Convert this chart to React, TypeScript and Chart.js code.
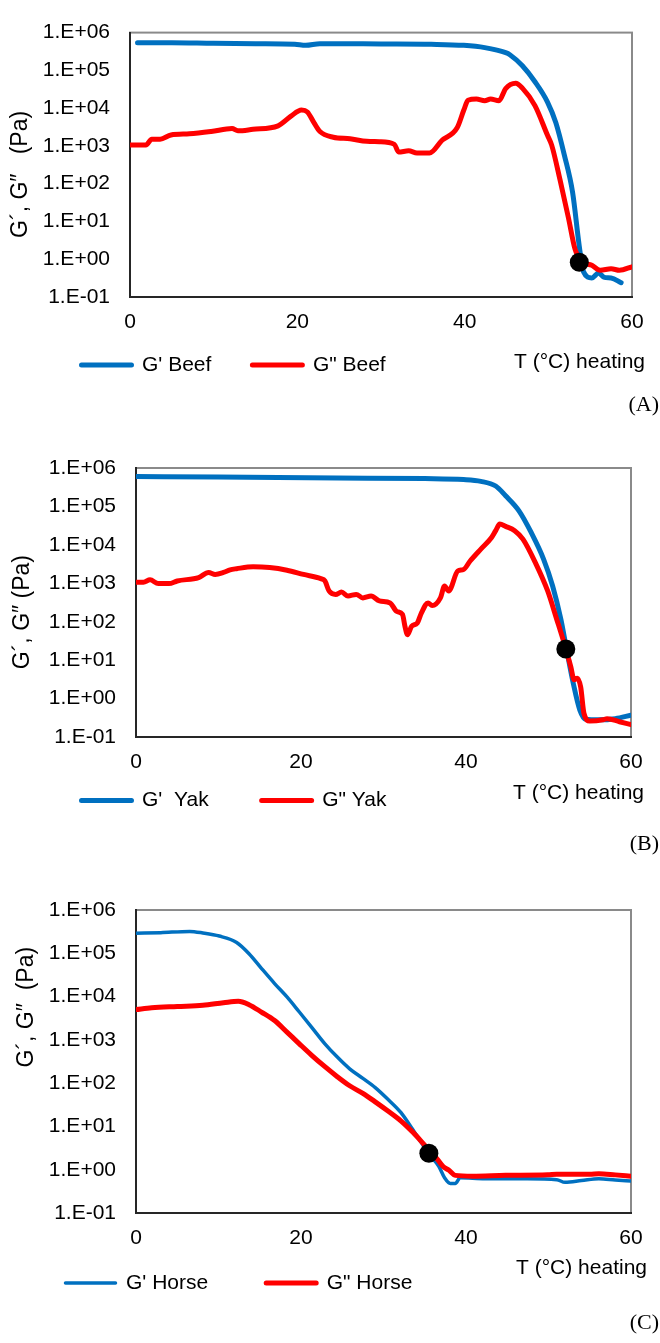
import React, { useEffect, useRef } from 'react';
import { Chart, registerables } from 'chart.js';

Chart.register(...registerables);
Chart.defaults.font.family = "'Liberation Sans', Arial, sans-serif";

// ---- axis ticks ----
const X_TICKS = [0, 20, 40, 60];
const Y_TICKS = [0.1, 1, 10, 100, 1000, 10000, 100000, 1000000];
const Y_TICK_LABELS = ['1.E-01', '1.E+00', '1.E+01', '1.E+02', '1.E+03', '1.E+04', '1.E+05', '1.E+06'];

// ---- (A) Beef ----
const BEEF_G1_T = [0.9, 5, 10, 15, 19.7, 21, 22.7, 30, 36, 39.9, 42.4, 44.9, 45.4, 46.9, 48.4, 49.9, 50.9, 51.9, 52.9, 53.7, 54.2, 55.2, 56.0, 56.7, 57.5, 58.7];
const BEEF_G1 = [540000, 540000, 520000, 510000, 490000, 460000, 510000, 500000, 490000, 460000, 400000, 295000, 260000, 132000, 50000, 14500, 4100, 590, 59, 2.2, 0.47, 0.32, 0.43, 0.33, 0.32, 0.24];
const BEEF_G2_T = [0, 1.9, 2.6, 3.6, 4.9, 7.1, 9.7, 12.2, 12.9, 14.7, 17.7, 19.2, 20.5, 21.2, 22.0, 22.7, 24.3, 26.3, 28.3, 29.8, 31.6, 32.1, 33.3, 34.3, 35.8, 37.3, 39.1, 39.9, 40.4, 41.4, 42.4, 43.1, 44.1, 44.9, 46.1, 46.9, 48.4, 49.9, 50.4, 51.4, 52.4, 53.2, 53.9, 55.2, 56.2, 57.5, 58.5, 60];
const BEEF_G2 = [1050, 1050, 1510, 1510, 1950, 2090, 2400, 2880, 2510, 2750, 3390, 6030, 8910, 7940, 4070, 2400, 1700, 1550, 1320, 1290, 1100, 690, 740, 650, 650, 1410, 3020, 8910, 16200, 17400, 15800, 17400, 15800, 33100, 45700, 33900, 11700, 1910, 1050, 126, 12.6, 1.82, 0.91, 0.69, 0.51, 0.56, 0.51, 0.63];
const BEEF_CROSS = { x: 53.7, y: 0.83 };

// ---- (B) Yak ----
const YAK_G1_T = [0, 10, 24.4, 35, 39.7, 41.8, 43.6, 44.8, 46.4, 47.9, 49.4, 50.5, 51.5, 52.2, 53.0, 53.8, 54.5, 56.1, 58.1, 60];
const YAK_G1 = [600000, 580000, 550000, 530000, 500000, 450000, 340000, 190000, 78000, 21000, 4270, 850, 115, 18.6, 2.5, 0.5, 0.29, 0.28, 0.3, 0.37];
const YAK_G2_T = [0, 0.9, 1.7, 2.7, 4.0, 5.0, 7.6, 8.8, 9.6, 10.6, 11.4, 12.2, 14.2, 16.2, 18.3, 20.3, 22.4, 22.9, 23.4, 24.2, 24.9, 25.7, 26.7, 27.5, 28.5, 29.5, 30.8, 31.6, 32.3, 32.6, 32.9, 33.4, 34.1, 34.6, 35.4, 35.9, 36.9, 37.4, 37.9, 39.0, 39.7, 40.5, 41.8, 43.1, 43.6, 44.1, 44.8, 45.9, 46.9, 48.4, 49.9, 51.0, 51.9, 52.7, 53.1, 53.5, 53.9, 54.3, 55.0, 56.6, 57.1, 58.6, 60];
const YAK_G2 = [1070, 1070, 1230, 980, 980, 1150, 1410, 1910, 1700, 1910, 2240, 2400, 2690, 2570, 2190, 1700, 1320, 1150, 631, 513, 589, 468, 513, 417, 468, 347, 309, 186, 155, 76, 46, 76, 93, 170, 309, 263, 417, 851, 631, 2090, 2290, 3800, 7760, 15500, 23400, 34700, 30200, 23400, 14100, 3470, 631, 115, 27.5, 6.8, 3.1, 3.4, 2.0, 0.41, 0.26, 0.28, 0.3, 0.25, 0.21];
const YAK_CROSS = { x: 52.1, y: 19.5 };

// ---- (C) Horse ----
const HORSE_G1_T = [0, 3.0, 6.5, 8.1, 10.1, 12.2, 13.7, 15.2, 16.8, 18.3, 19.8, 21.3, 22.9, 24.4, 25.9, 27.5, 29.0, 30.5, 32.1, 33.4, 34.6, 35.6, 36.7, 37.4, 38.1, 38.7, 39.3, 42.3, 47.4, 51.0, 52.0, 54.0, 56.1, 58.1, 60];
const HORSE_G1 = [290000, 300000, 320000, 295000, 250000, 178000, 98000, 45000, 20000, 9800, 4400, 1950, 810, 400, 214, 129, 79, 43, 21, 9.3, 4.2, 2.2, 1.2, 0.65, 0.48, 0.48, 0.65, 0.62, 0.62, 0.59, 0.51, 0.56, 0.62, 0.58, 0.55];
const HORSE_G2_T = [0, 1.9, 5.0, 8.1, 10.6, 12.4, 13.7, 15.2, 16.8, 18.3, 19.8, 21.3, 22.9, 24.4, 25.9, 27.5, 29.0, 30.5, 32.1, 33.6, 35.1, 36.2, 37.2, 37.9, 38.7, 40.8, 44.8, 49.9, 51.0, 55.0, 56.1, 58.1, 60];
const HORSE_G2 = [5000, 5500, 5900, 6300, 7200, 7800, 6500, 4400, 2800, 1510, 810, 440, 240, 141, 87, 58, 37, 23, 13.5, 7.2, 3.5, 2.1, 1.2, 0.98, 0.74, 0.71, 0.74, 0.76, 0.79, 0.79, 0.81, 0.76, 0.71];
const HORSE_CROSS = { x: 35.5, y: 2.4 };

const X_TITLE = 'T (°C) heating';
const BLUE = '#0070C0';
const RED = '#FF0000';

type Panel = {
  g1T: number[]; g1: number[]; g2T: number[]; g2: number[];
  cross: { x: number; y: number };
  g1Label: string; g2Label: string; g1Width: number; g2Width: number;
  yTitle: string; tag: string; tagTop: number;
  canvasTop: number; canvasHeight: number;
  padLeft: number; padTop: number; padRight: number; padBottom: number;
  yAxisWidth: number; rightAxisWidth: number; yTitlePad: number;
  xAxisHeight: number; titlePadTop: number; titlePadBottom: number; legendPad: number;
};

const PANELS: Panel[] = [
  {
    g1T: BEEF_G1_T, g1: BEEF_G1, g2T: BEEF_G2_T, g2: BEEF_G2, cross: BEEF_CROSS,
    g1Label: "G' Beef", g2Label: 'G" Beef', g1Width: 5, g2Width: 5,
    yTitle: 'G´, G″   (Pa)   ', tag: '(A)', tagTop: 393,
    canvasTop: 0, canvasHeight: 409, padLeft: 40.5, padTop: 18, padRight: 15, padBottom: 0,
    yAxisWidth: 89.5, rightAxisWidth: 13, yTitlePad: -33.3,
    xAxisHeight: 40, titlePadTop: 12.4, titlePadBottom: -61.1, legendPad: 41,
  },
  {
    g1T: YAK_G1_T, g1: YAK_G1, g2T: YAK_G2_T, g2: YAK_G2, cross: YAK_CROSS,
    g1Label: "G'  Yak", g2Label: 'G" Yak', g1Width: 5, g2Width: 5,
    yTitle: 'G´, G″ (Pa)   ', tag: '(B)', tagTop: 832,
    canvasTop: 430, canvasHeight: 431, padLeft: 28.5, padTop: 38, padRight: 16, padBottom: 0,
    yAxisWidth: 107.5, rightAxisWidth: 13, yTitlePad: -19.3,
    xAxisHeight: 40, titlePadTop: 3.4, titlePadBottom: -68.6, legendPad: 53,
  },
  {
    g1T: HORSE_G1_T, g1: HORSE_G1, g2T: HORSE_G2_T, g2: HORSE_G2, cross: HORSE_CROSS,
    g1Label: "G' Horse", g2Label: 'G" Horse', g1Width: 3.5, g2Width: 5,
    yTitle: '                 G´, G″  (Pa)', tag: '(C)', tagTop: 1311,
    canvasTop: 870, canvasHeight: 472, padLeft: 7.5, padTop: 40, padRight: 13, padBottom: 0,
    yAxisWidth: 128.5, rightAxisWidth: 16, yTitlePad: 5.7,
    xAxisHeight: 40, titlePadTop: 2.4, titlePadBottom: -66.1, legendPad: 58,
  },
];

const framePlugin = {
  id: 'plotFrame',
  beforeDraw(chart: any) {
    const { ctx, chartArea } = chart;
    if (!chartArea) return;
    ctx.save();
    ctx.strokeStyle = '#8a8a8a';
    ctx.lineWidth = 2;
    ctx.strokeRect(chartArea.left, chartArea.top, chartArea.right - chartArea.left, chartArea.bottom - chartArea.top);
    ctx.restore();
  },
};

function toPoints(xs: number[], ys: number[]) {
  return xs.map((x, i) => ({ x, y: ys[i] }));
}

function buildConfig(p: Panel): any {
  return {
    type: 'line',
    data: {
      datasets: [
        {
          label: p.g1Label, data: toPoints(p.g1T, p.g1), borderColor: BLUE, backgroundColor: BLUE,
          borderWidth: p.g1Width, pointRadius: 0, cubicInterpolationMode: 'monotone',
          borderCapStyle: 'round', borderJoinStyle: 'round', order: 2,
        },
        {
          label: p.g2Label, data: toPoints(p.g2T, p.g2), borderColor: RED, backgroundColor: RED,
          borderWidth: p.g2Width, pointRadius: 0, cubicInterpolationMode: 'monotone',
          borderCapStyle: 'round', borderJoinStyle: 'round', order: 1,
        },
        {
          label: 'crossover', data: [p.cross], showLine: false, pointRadius: 9.5,
          pointBackgroundColor: '#000', pointBorderWidth: 0, borderColor: '#000', backgroundColor: '#000', order: 0,
        },
      ],
    },
    options: {
      responsive: false,
      maintainAspectRatio: false,
      animation: false,
      events: [],
      layout: { padding: { left: p.padLeft, top: p.padTop, right: p.padRight, bottom: p.padBottom } },
      scales: {
        x: {
          type: 'linear', min: 0, max: 60,
          afterBuildTicks: (s: any) => { s.ticks = X_TICKS.map((v) => ({ value: v })); },
          afterFit: (s: any) => { s.height = p.xAxisHeight; },
          ticks: { font: { size: 21 }, color: '#000', padding: 13, maxRotation: 0, autoSkip: false },
          grid: { display: false, drawTicks: false },
          border: { display: true, color: '#262626', width: 2 },
        },
        y: {
          type: 'logarithmic', min: 0.1, max: 1000000, position: 'left',
          afterBuildTicks: (s: any) => { s.ticks = Y_TICKS.map((v) => ({ value: v })); },
          afterFit: (s: any) => { s.width = p.yAxisWidth; },
          ticks: {
            font: { size: 21 }, color: '#000', padding: 20, autoSkip: false,
            callback: (_v: any, i: number) => Y_TICK_LABELS[i],
          },
          grid: { display: false, drawTicks: false },
          border: { display: true, color: '#262626', width: 2 },
          title: {
            display: true, text: p.yTitle, color: '#000', font: { size: 23 },
            padding: { top: p.yTitlePad, bottom: 0 },
          },
        },
        yRight: {
          type: 'linear', position: 'right', display: true,
          afterFit: (s: any) => { s.width = p.rightAxisWidth; },
          ticks: { display: false },
          grid: { display: false, drawTicks: false },
          border: { display: false },
        },
      },
      plugins: {
        tooltip: { enabled: false },
        title: {
          display: true, text: X_TITLE, position: 'bottom', align: 'end', color: '#000',
          font: { size: 21, weight: 'normal' }, weight: 500, fullSize: true,
          padding: { top: p.titlePadTop, bottom: p.titlePadBottom },
        },
        legend: {
          display: true, position: 'bottom', align: 'start',
          labels: {
            boxWidth: 50, boxHeight: 0, padding: p.legendPad, color: '#000', font: { size: 21 },
            filter: (item: any) => item.datasetIndex !== 2,
            sort: (a: any, b: any) => a.datasetIndex - b.datasetIndex,
          },
        },
      },
    },
    plugins: [framePlugin],
  };
}

export default function App() {
  const refs = [useRef<HTMLCanvasElement>(null), useRef<HTMLCanvasElement>(null), useRef<HTMLCanvasElement>(null)];

  useEffect(() => {
    const charts = PANELS.map((p, i) => new Chart(refs[i].current as HTMLCanvasElement, buildConfig(p)));
    return () => charts.forEach((c) => c.destroy());
  }, []);

  return (
    <div style={{ position: 'absolute', left: 0, top: 0, width: 660, height: 1343, background: '#fff', overflow: 'hidden' }}>
      {PANELS.map((p, i) => (
        <canvas
          key={'c' + p.tag}
          ref={refs[i]}
          width={660}
          height={p.canvasHeight}
          style={{ position: 'absolute', left: 0, top: p.canvasTop, width: 660, height: p.canvasHeight }}
        />
      ))}
      {PANELS.map((p) => (
        <div
          key={'t' + p.tag}
          style={{
            position: 'absolute', right: 1, top: p.tagTop,
            font: "22px 'Liberation Serif', 'Times New Roman', serif", lineHeight: '22px', color: '#000',
          }}
        >
          {p.tag}
        </div>
      ))}
    </div>
  );
}
